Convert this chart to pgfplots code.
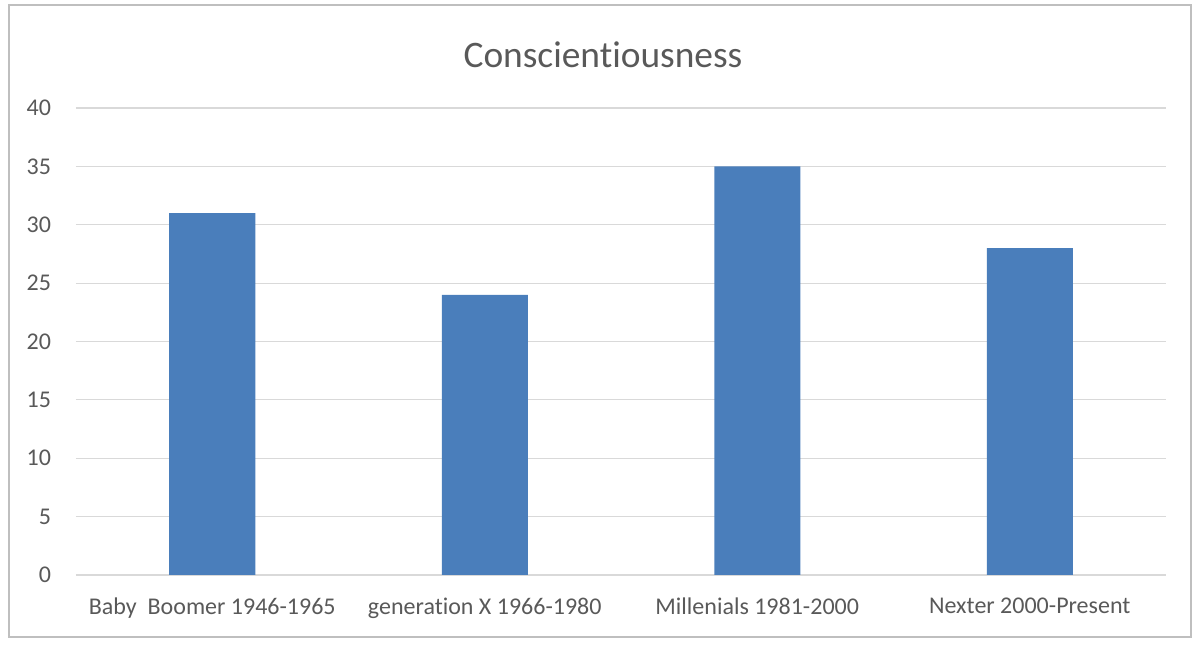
\documentclass[border=0pt]{standalone}
\usepackage{pgfplots}
\pgfplotsset{compat=1.18}
\usepackage{fontspec}
\setmainfont[Ligatures=NoCommon]{Carlito}
\definecolor{barblue}{HTML}{4A7EBB}
\definecolor{txt}{HTML}{595959}
\definecolor{gridc}{HTML}{D9D9D9}
\begin{document}
\begin{tikzpicture}
\path[use as bounding box] (0pt,0pt) rectangle (597pt,323.5pt);
\draw[black!25, line width=1pt] (4.5pt,5pt) rectangle (595.5pt,321pt);
\node[text=txt, font=\fontsize{18.7}{20}\selectfont] at (301.5pt,296pt) {Conscientiousness};
\begin{axis}[at={(38pt,36pt)}, anchor=south west, scale only axis,
  width=545pt, height=233.5pt,
  xmin=-0.5, xmax=3.5, ymin=0, ymax=40,
  ytick={0,5,...,40}, xtick=data,
  xticklabels={Baby\ \ Boomer 1946-1965, generation X 1966-1980, Millenials 1981-2000, Nexter 2000-Present},
  ybar, bar width=43pt,
  axis line style={draw=none}, tick style={draw=none},
  ymajorgrids, grid style={gridc, line width=0.6pt},
  ticklabel style={font=\fontsize{12}{14}\selectfont, text=txt},
  /pgf/number format/assume math mode=true,
  yticklabel style={xshift=-9pt},
  xticklabel style={yshift=-3.5pt},
]
\addplot[fill=barblue, draw=none] coordinates {(0,31) (1,24) (2,35) (3,28)};
\end{axis}
\end{tikzpicture}
\end{document}
